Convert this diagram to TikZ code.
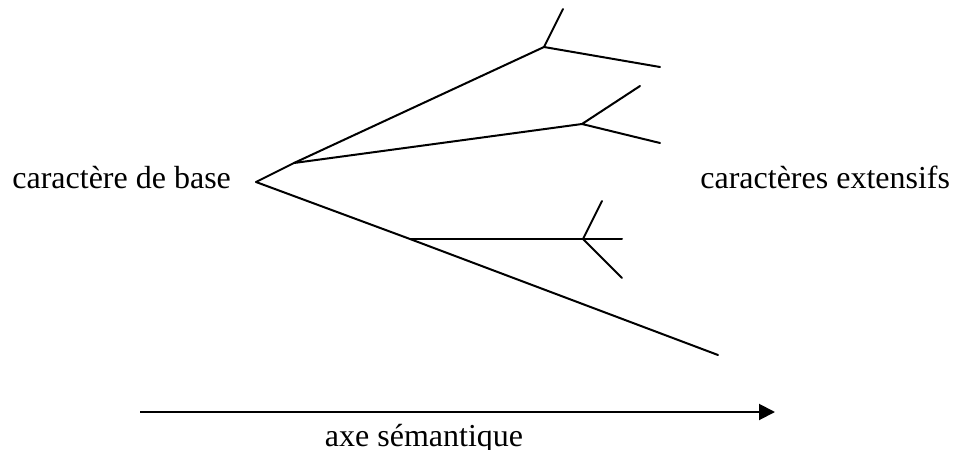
\documentclass[tikz,border=0pt]{standalone}
\usepackage{fontspec}
\setmainfont{Liberation Serif}
\usetikzlibrary{arrows.meta}

\begin{document}
\begin{tikzpicture}[
  x=0.5pt,y=-0.5pt,
  font=\fontsize{16}{19}\selectfont,
  lbl/.style={inner sep=0pt},
  tree/.style={line width=1pt,line cap=round,line join=round},
  axis/.style={line width=1pt,-{Triangle[length=8pt,width=8pt]}},
]
\useasboundingbox (0,0) rectangle (955,450);

%% labels
\node[lbl,anchor=base west] (base) at (12,188) {caractère de base};
\node[lbl,anchor=base west] (ext) at (700,188) {caractères extensifs};

%% branch points
\coordinate (root) at (256,182);
\coordinate (b1) at (294,163);
\coordinate (f1) at (544,47);
\coordinate (f2) at (582,124);
\coordinate (b3) at (410,239);
\coordinate (f3) at (583,239);

%% tips
\coordinate (t1a) at (563,9);
\coordinate (t1b) at (660,67);
\coordinate (t2a) at (640,86);
\coordinate (t2b) at (660,143);
\coordinate (t3a) at (602,201);
\coordinate (t3b) at (622,239);
\coordinate (t3c) at (622,278);
\coordinate (low) at (718,355);

\draw[tree] (t1a) -- (f1) -- (t1b);
\draw[tree] (root) -- (b1) -- (f1);
\draw[tree] (b1) -- (f2);
\draw[tree] (t2a) -- (f2) -- (t2b);
\draw[tree] (root) -- (b3) -- (low);
\draw[tree] (b3) -- (f3) -- (t3b);
\draw[tree] (t3a) -- (f3) -- (t3c);

%% semantic axis
\coordinate (ax0) at (140,412);
\coordinate (ax1) at (775,412);
\draw[axis] (ax0) -- (ax1);
\node[lbl,anchor=base] (axe) at (424,446) {axe sémantique};
\end{tikzpicture}
\end{document}
